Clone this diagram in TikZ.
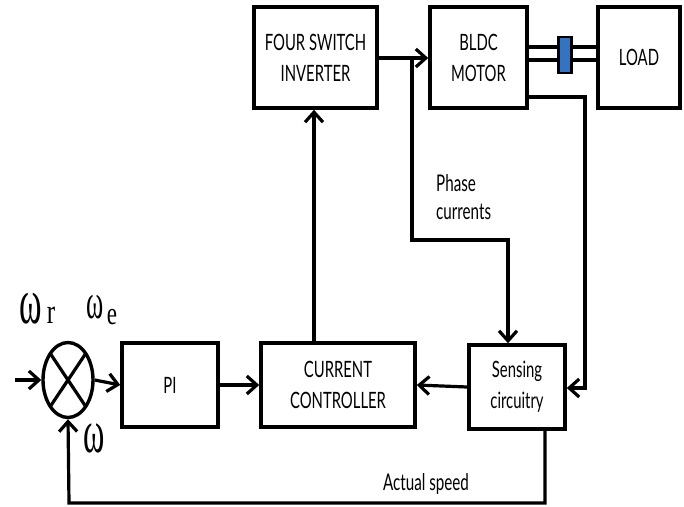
\documentclass[tikz,border=0pt]{standalone}
\usepackage{fontspec}
\usetikzlibrary{shapes.geometric,arrows.meta,calc}
\newfontfamily\labfont[FakeStretch=0.66]{Lato}
\newfontfamily\omgfont{Liberation Serif}
\newcommand{\omgsym}[1]{\scalebox{0.9}[1.7]{\fontsize{#1}{#1}\omgfont ω}}
\newcommand{\omgsub}[2]{\scalebox{1}[1.4]{\fontsize{#1}{#1}\omgfont #2}}
\begin{document}
\begin{tikzpicture}[x=1pt,y=-1pt,
  blk/.style={draw,line width=3.6pt,rectangle,align=center,inner sep=0pt,
    font=\labfont\fontsize{22.5}{31}\selectfont},
  conn/.style={line width=3.2pt},
  arr/.style={conn,-{Straight Barb[length=10pt,width=18pt,line width=3.2pt]}},
  lbl/.style={inner sep=0pt,font=\labfont\fontsize{23}{28}\selectfont,align=left}]
\useasboundingbox (0,0) rectangle (684,506);
% blocks
\node[blk,minimum width=123pt,minimum height=101pt] (inv) at (315.5,57.5) {FOUR SWITCH\\INVERTER};
\node[blk,minimum width=97pt,minimum height=101pt] (mot) at (478.5,57.5) {BLDC\\MOTOR};
\node[blk,minimum width=82pt,minimum height=101pt] (load) at (639,57.5) {LOAD};
\node[blk,minimum width=96pt,minimum height=84pt] (pi) at (170,385) {PI};
\node[blk,minimum width=154pt,minimum height=84pt] (cc) at (338,385) {CURRENT\\CONTROLLER};
\node[blk,minimum width=96pt,minimum height=84pt] (sen) at (517,387) {Sensing\\circuitry};
\node[draw,ellipse,line width=3.4pt,minimum width=50pt,minimum height=75pt,inner sep=0pt] (sum) at (68,380) {};
\draw[line width=3.2pt] ($(sum.center)+(-17.7,-26.5)$) -- ($(sum.center)+(17.7,26.5)$);
\draw[line width=3.2pt] ($(sum.center)+(-17.7,26.5)$) -- ($(sum.center)+(17.7,-26.5)$);
% shaft and coupling
\draw[conn] (mot.east |- 0,47) -- (load.west |- 0,47);
\draw[conn] (mot.east |- 0,60) -- (load.west |- 0,60);
\node[draw,line width=2.4pt,fill=blue!55!cyan!70!black!80,minimum width=13pt,minimum height=36pt,inner sep=0pt] (cpl) at (565,55) {};
% connectors
\coordinate (inx) at (15,380);
\draw[arr] (inx) -- (sum.west);
\draw[arr] (sum.east) -- (pi.west);
\draw[arr] (pi.east) -- (cc.west);
\draw[arr] (sen.west) -- (cc.east);
\draw[arr] (cc.north -| 314,0) -- (inv.south -| 314,0);
\draw[arr] (inv.east |- 0,58) -- (mot.west |- 0,58);
\coordinate (br) at (412,58);
\draw[arr] (br) -- (412,240) -- (508,240) -- (sen.north -| 508,0);
\draw[arr] (mot.east |- 0,97) -- (585,97) -- (585,388) -- (sen.east |- 0,388);
\draw[arr] (sen.south -| 545,0) -- (545,503) -- (69,503) -- (sum.south);
% labels
\node[lbl,anchor=north west] (ph) at (436,174) {Phase\\currents};
\node[lbl] (as) at (426,484) {Actual speed};
\node[inner sep=0pt] (wr) at (31,309) {\omgsym{38}};
\node[inner sep=0pt] (wrs) at (51,315) {\omgsub{25}{r}};
\node[inner sep=0pt] (we) at (95,307) {\omgsym{29}};
\node[inner sep=0pt] (wes) at (112,317) {\omgsub{23}{e}};
\node[inner sep=0pt] (w) at (94,438) {\omgsym{36}};
\end{tikzpicture}
\end{document}
